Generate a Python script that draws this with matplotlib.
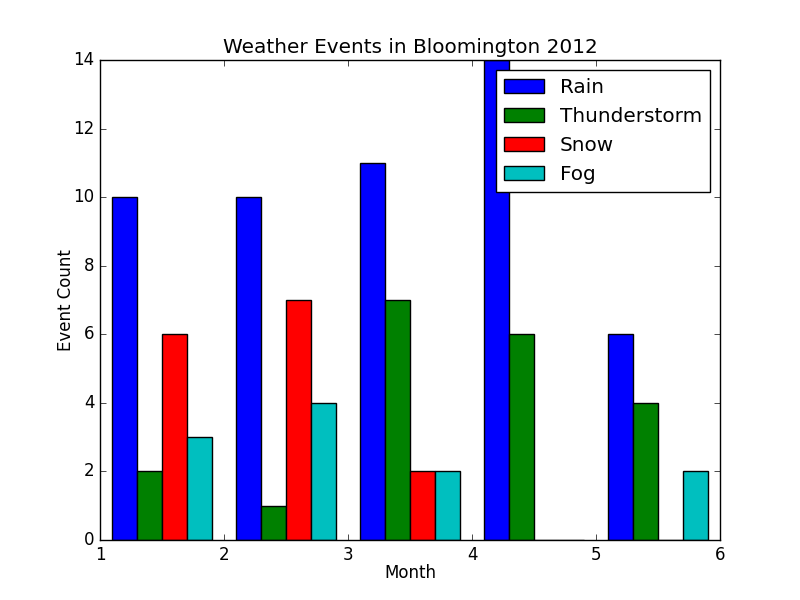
import matplotlib
matplotlib.use('Agg')
import matplotlib.pyplot as plt
import numpy as np

plt.style.use('classic')

months = [1, 2, 3, 4, 5]
rain = [10, 10, 11, 14, 6]
thunderstorm = [2, 1, 7, 6, 4]
snow = [6, 7, 2, 0, 0]
fog = [3, 4, 2, 0, 2]

series = [('Rain', rain, 'b'), ('Thunderstorm', thunderstorm, 'g'),
          ('Snow', snow, 'r'), ('Fog', fog, 'c')]

fig, ax = plt.subplots(figsize=(8, 6), dpi=100)
width = 0.2
x = np.array(months)
for i, (name, vals, col) in enumerate(series):
    ax.bar(x + 0.1 + i * width, vals, width, color=col, label=name, align='edge')

ax.set_xlim(1, 6)
ax.set_ylim(0, 14)
ax.set_title('Weather Events in Bloomington 2012')
ax.set_xlabel('Month', labelpad=0)
ax.set_ylabel('Event Count', labelpad=-1)
ax.legend(loc='upper right')

fig.savefig('out.png', dpi=100)
